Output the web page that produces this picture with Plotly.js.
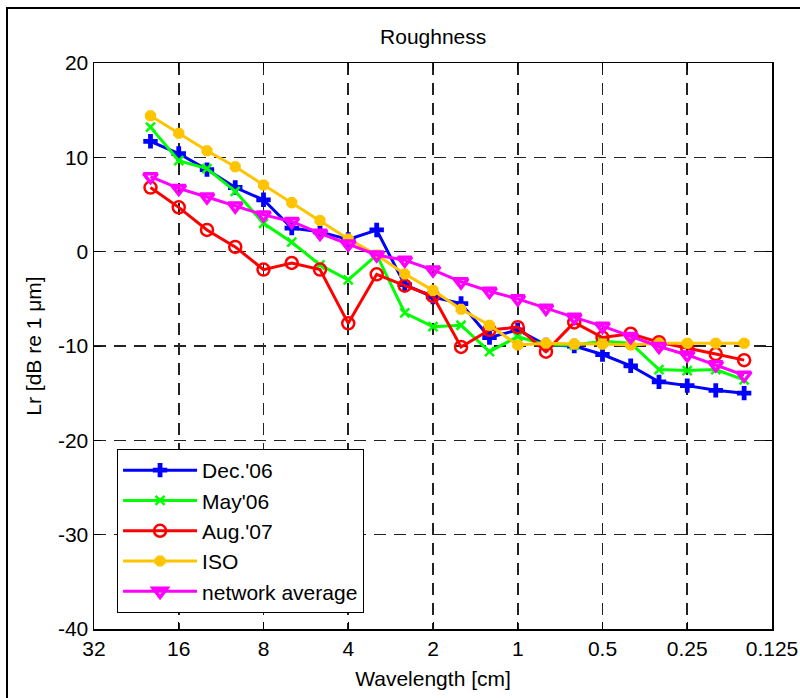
<!DOCTYPE html>
<html>
<head>
<meta charset="utf-8">
<script src="https://cdn.plot.ly/plotly-3.0.1.min.js"></script>
<style>
html,body{margin:0;padding:0;background:#fff;overflow:hidden;}
#wrap{position:relative;width:800px;height:698px;}
#chart{width:800px;height:698px;}
#frame{position:absolute;left:6px;top:7px;width:800px;height:800px;border-left:2px solid #000;border-top:2px solid #000;pointer-events:none;}
</style>
</head>
<body>
<div id="wrap"><div id="chart"></div><div id="frame"></div></div>
<script>
const wavelength = [20.16, 16, 12.7, 10.08, 8, 6.35, 5.04, 4, 3.17, 2.52, 2, 1.59, 1.26, 1, 0.794, 0.63, 0.5, 0.397, 0.315, 0.25, 0.198, 0.157];
const dec06 = [11.7, 10.4, 8.7, 6.8, 5.5, 2.5, 2.1, 1.3, 2.3, -3.5, -4.8, -5.5, -9.1, -8.3, -9.9, -10.0, -10.9, -12.1, -13.8, -14.2, -14.7, -15.0];
const may06 = [13.2, 9.65, 8.8, 6.4, 3.0, 1.0, -1.4, -3.0, -0.35, -6.5, -7.95, -7.8, -10.6, -9.0, -9.9, -9.9, -9.5, -9.7, -12.5, -12.6, -12.5, -13.6];
const aug07 = [6.8, 4.7, 2.3, 0.5, -1.9, -1.2, -1.9, -7.6, -2.4, -3.6, -4.7, -10.1, -8.3, -8.0, -10.6, -7.5, -9.1, -8.7, -9.6, -10.2, -10.85, -11.5];
const iso = [14.4, 12.55, 10.7, 9.0, 7.07, 5.2, 3.3, 1.35, -0.35, -2.36, -4.1, -6.1, -7.8, -9.9, -9.7, -9.8, -9.8, -9.9, -9.7, -9.7, -9.7, -9.7];
const network = [7.95, 6.7, 5.8, 4.84, 3.9, 3.2, 1.95, 0.8, -0.35, -0.9, -1.94, -3.2, -4.2, -5.0, -6.0, -6.96, -7.9, -9.0, -10.05, -10.95, -12.0, -13.1];

const xTickVals = [32, 16, 8, 4, 2, 1, 0.5, 0.25, 0.125];
const xTickText = ['32', '16', '8', '4', '2', '1', '0.5', '0.25', '0.125'];
const yTickVals = [20, 10, 0, -10, -20, -30, -40];
const yTickText = ['20', '10', '0', '-10', '-20', '-30', '-40'];

const names = ["Dec.'06", "May'06", "Aug.'07", "ISO", "network average"];

function tr(y, name, color, symbol, size, mlw, group) {
  return {
    x: wavelength, y: y, name: name, type: 'scatter', mode: 'lines+markers',
    legendgroup: group,
    line: {color: color, width: 3},
    marker: {color: color, symbol: symbol, size: size, line: {color: color, width: mlw}}
  };
}

const data = [
  tr(dec06, names[0], '#0000ff', 'cross', 12, 0, 'a'),
  tr(may06, names[1], '#00ff00', 'x-thin', 9, 2.5, 'b'),
  tr(aug07, names[2], '#ff0000', 'circle-open', 12, 2.5, 'c'),
  tr(iso, names[3], '#ffc400', 'octagon', 12, 0, 'd'),
  tr(network, names[4], '#ff00ff', 'triangle-down-open', 12, 3.5, 'e')
];

const fam = '"Liberation Sans", Arial, Helvetica, sans-serif';
const fnt = {family: fam, size: 21, color: '#000'};

const layout = {
  width: 800, height: 698,
  margin: {l: 94, r: 28, t: 63, b: 69},
  paper_bgcolor: '#fff', plot_bgcolor: '#fff',
  font: fnt,
  showlegend: true,
  title: {text: 'Roughness', font: fnt, x: 0.5415, xanchor: 'center', y: 0.948, yanchor: 'middle'},
  xaxis: {
    type: 'log', range: [Math.log10(32), Math.log10(0.125)],
    tickvals: xTickVals, ticktext: xTickText,
    ticks: 'inside', ticklen: 7, tickwidth: 1, tickcolor: '#000',
    showline: true, linecolor: '#000', linewidth: 1.5, mirror: 'ticks',
    showgrid: true, gridcolor: '#222', gridwidth: 1.6, griddash: '12px,8px',
    zeroline: false, tickfont: fnt,
    title: {text: 'Wavelength [cm]', font: fnt, standoff: 12},
    automargin: false
  },
  yaxis: {
    range: [-40, 20], tickvals: yTickVals, ticktext: yTickText,
    ticks: 'inside', ticklen: 7, tickwidth: 1, tickcolor: '#000',
    showline: true, linecolor: '#000', linewidth: 1.5, mirror: 'ticks',
    showgrid: true, gridcolor: '#222', gridwidth: 1.6, griddash: '12px,8px',
    zeroline: false, tickfont: fnt,
    title: {text: 'Lr [dB re 1 μm]', font: fnt, standoff: 10},
    automargin: false
  },
  legend: {
    x: 0.034, y: 0.318, xanchor: 'left', yanchor: 'top',
    bgcolor: '#fff', bordercolor: '#000', borderwidth: 1,
    font: fnt,
    traceorder: 'grouped', tracegroupgap: 0, itemwidth: 74
  }
};

Plotly.newPlot('chart', data, layout, {displayModeBar: false, staticPlot: true});
</script>
</body>
</html>
